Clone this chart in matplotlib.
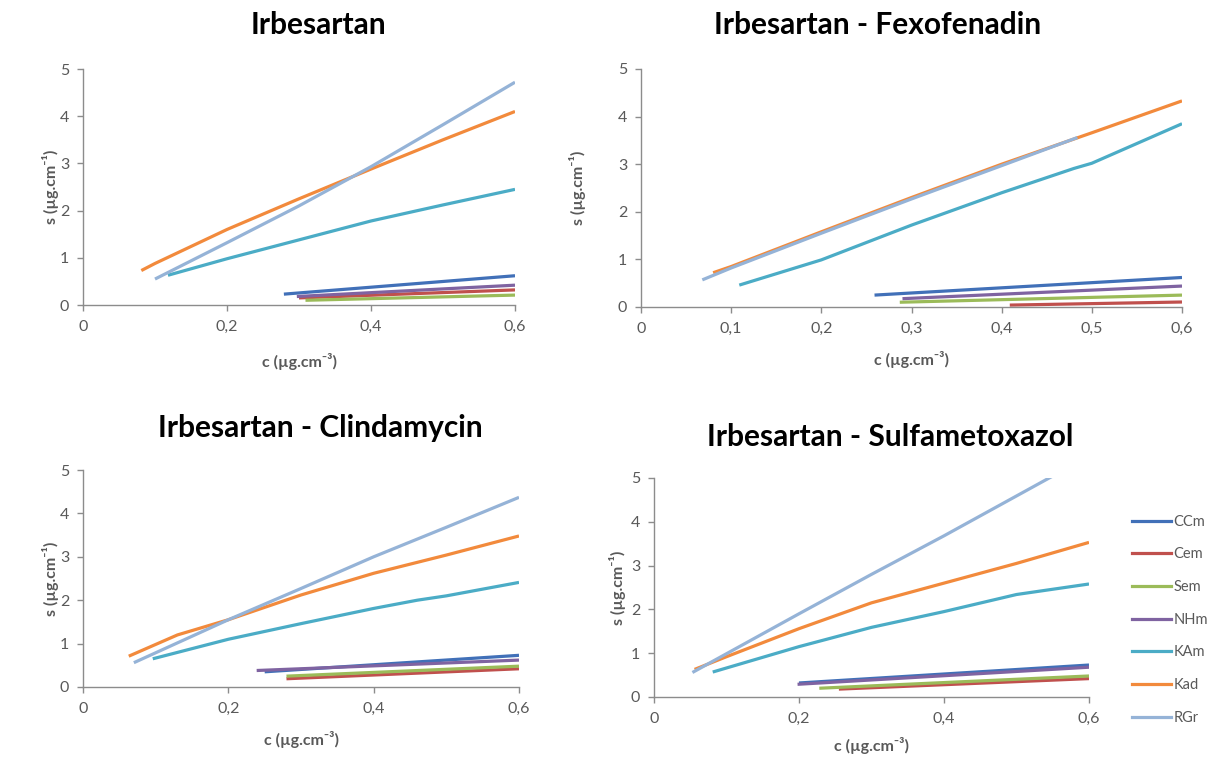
import matplotlib
matplotlib.use("Agg")
import matplotlib.pyplot as plt
from matplotlib.lines import Line2D

plt.rcParams['font.family'] = ['Lato', 'DejaVu Sans']

series_names = ["CCm", "Cem", "Sem", "NHm", "KAm", "Kad", "RGr"]
series_colors = ["#4170B8", "#C0504D", "#9BBB59", "#7F63A1", "#4BACC6", "#F28A3C", "#95B3D7"]

titles = ["Irbesartan", "Irbesartan - Fexofenadin",
          "Irbesartan - Clindamycin", "Irbesartan - Sulfametoxazol"]

# ---- Panel 1: Irbesartan ----
p1_CCm_x = [0.279, 0.6];  p1_CCm_y = [0.23, 0.62]
p1_Cem_x = [0.30, 0.6];   p1_Cem_y = [0.15, 0.32]
p1_Sem_x = [0.309, 0.6];  p1_Sem_y = [0.10, 0.21]
p1_NHm_x = [0.297, 0.6];  p1_NHm_y = [0.18, 0.42]
p1_KAm_x = [0.118, 0.2, 0.3, 0.4, 0.5, 0.6]
p1_KAm_y = [0.63, 0.98, 1.38, 1.78, 2.12, 2.45]
p1_Kad_x = [0.081, 0.1, 0.2, 0.3, 0.4, 0.5, 0.6]
p1_Kad_y = [0.73, 0.88, 1.60, 2.25, 2.88, 3.50, 4.10]
p1_RGr_x = [0.10, 0.2, 0.3, 0.4, 0.5, 0.6]
p1_RGr_y = [0.55, 1.32, 2.10, 2.93, 3.82, 4.72]

# ---- Panel 2: Irbesartan - Fexofenadin ----
p2_CCm_x = [0.259, 0.6];  p2_CCm_y = [0.25, 0.62]
p2_Cem_x = [0.409, 0.6];  p2_Cem_y = [0.04, 0.105]
p2_Sem_x = [0.287, 0.6];  p2_Sem_y = [0.10, 0.25]
p2_NHm_x = [0.29, 0.6];   p2_NHm_y = [0.175, 0.44]
p2_KAm_x = [0.109, 0.2, 0.3, 0.4, 0.48, 0.5, 0.6]
p2_KAm_y = [0.46, 0.99, 1.72, 2.40, 2.91, 3.02, 3.85]
p2_Kad_x = [0.08, 0.1, 0.2, 0.3, 0.4, 0.5, 0.6]
p2_Kad_y = [0.72, 0.85, 1.58, 2.30, 3.00, 3.66, 4.33]
p2_RGr_x = [0.068, 0.1, 0.2, 0.3, 0.4, 0.484]
p2_RGr_y = [0.57, 0.82, 1.55, 2.27, 2.97, 3.56]

# ---- Panel 3: Irbesartan - Clindamycin ----
p3_CCm_x = [0.25, 0.6];   p3_CCm_y = [0.35, 0.73]
p3_Cem_x = [0.28, 0.6];   p3_Cem_y = [0.19, 0.42]
p3_Sem_x = [0.28, 0.6];   p3_Sem_y = [0.25, 0.48]
p3_NHm_x = [0.239, 0.6];  p3_NHm_y = [0.38, 0.62]
p3_KAm_x = [0.096, 0.2, 0.3, 0.4, 0.46, 0.5, 0.6]
p3_KAm_y = [0.65, 1.10, 1.46, 1.81, 2.00, 2.10, 2.41]
p3_Kad_x = [0.063, 0.13, 0.2, 0.3, 0.4, 0.5, 0.6]
p3_Kad_y = [0.71, 1.20, 1.55, 2.12, 2.62, 3.04, 3.48]
p3_RGr_x = [0.07, 0.2, 0.3, 0.4, 0.5, 0.6]
p3_RGr_y = [0.56, 1.55, 2.27, 3.00, 3.68, 4.37]

# ---- Panel 4: Irbesartan - Sulfametoxazol ----
p4_CCm_x = [0.20, 0.6];   p4_CCm_y = [0.32, 0.73]
p4_Cem_x = [0.255, 0.6];  p4_Cem_y = [0.18, 0.42]
p4_Sem_x = [0.228, 0.6];  p4_Sem_y = [0.20, 0.48]
p4_NHm_x = [0.198, 0.6];  p4_NHm_y = [0.29, 0.68]
p4_KAm_x = [0.081, 0.2, 0.3, 0.4, 0.5, 0.6]
p4_KAm_y = [0.57, 1.15, 1.59, 1.95, 2.34, 2.58]
p4_Kad_x = [0.056, 0.1, 0.2, 0.3, 0.4, 0.5, 0.6]
p4_Kad_y = [0.63, 0.92, 1.56, 2.15, 2.60, 3.05, 3.53]
p4_RGr_x = [0.053, 0.2, 0.3, 0.4, 0.5, 0.6]
p4_RGr_y = [0.56, 1.90, 2.80, 3.68, 4.59, 5.50]

panels = [
    [(p1_CCm_x, p1_CCm_y), (p1_Cem_x, p1_Cem_y), (p1_Sem_x, p1_Sem_y), (p1_NHm_x, p1_NHm_y),
     (p1_KAm_x, p1_KAm_y), (p1_Kad_x, p1_Kad_y), (p1_RGr_x, p1_RGr_y)],
    [(p2_CCm_x, p2_CCm_y), (p2_Cem_x, p2_Cem_y), (p2_Sem_x, p2_Sem_y), (p2_NHm_x, p2_NHm_y),
     (p2_KAm_x, p2_KAm_y), (p2_Kad_x, p2_Kad_y), (p2_RGr_x, p2_RGr_y)],
    [(p3_CCm_x, p3_CCm_y), (p3_Cem_x, p3_Cem_y), (p3_Sem_x, p3_Sem_y), (p3_NHm_x, p3_NHm_y),
     (p3_KAm_x, p3_KAm_y), (p3_Kad_x, p3_Kad_y), (p3_RGr_x, p3_RGr_y)],
    [(p4_CCm_x, p4_CCm_y), (p4_Cem_x, p4_Cem_y), (p4_Sem_x, p4_Sem_y), (p4_NHm_x, p4_NHm_y),
     (p4_KAm_x, p4_KAm_y), (p4_Kad_x, p4_Kad_y), (p4_RGr_x, p4_RGr_y)],
]

xticks_sets = [
    [0, 0.2, 0.4, 0.6],
    [0, 0.1, 0.2, 0.3, 0.4, 0.5, 0.6],
    [0, 0.2, 0.4, 0.6],
    [0, 0.2, 0.4, 0.6],
]
yticks = [0, 1, 2, 3, 4, 5]

W, H = 1208, 758
# pixel boxes: left, right, top(y=5), bottom(y=0)
boxes = [(83, 515, 69, 305), (641, 1182, 69, 307), (83, 519, 470, 687), (654, 1089, 478, 697)]
title_pos = [(318, 25), (878, 25), (320, 428), (890, 437)]
xlabel_y = [362, 360, 740, 745]
ylabel_x = [50, 578, 50, 618]

fig = plt.figure(figsize=(W / 100, H / 100), dpi=100)

axis_gray = "#8C8C8C"
text_gray = "#595959"

for i, data in enumerate(panels):
    l, r, t, b = boxes[i]
    ax = fig.add_axes([l / W, 1 - b / H, (r - l) / W, (b - t) / H])
    for (xs, ys), name, col in zip(data, series_names, series_colors):
        ax.plot(xs, ys, color=col, lw=2.3, solid_capstyle='butt', label=name)
    ax.set_xlim(0, 0.6)
    ax.set_ylim(0, 5)
    ax.set_xticks(xticks_sets[i])
    ax.set_xticklabels(["0" if v == 0 else ("%g" % v).replace(".", ",") for v in xticks_sets[i]])
    ax.set_yticks(yticks)
    ax.set_yticklabels([str(v) for v in yticks])
    for s in ["top", "right"]:
        ax.spines[s].set_visible(False)
    for s in ["left", "bottom"]:
        ax.spines[s].set_color(axis_gray)
        ax.spines[s].set_linewidth(1.0)
    ax.tick_params(direction='out', length=4, width=1.0, color=axis_gray,
                   labelcolor=text_gray, labelsize=11.5)
    ax.tick_params(axis='x', pad=7)
    ax.tick_params(axis='y', pad=6)
    ax.set_facecolor('none')
    fig.text(title_pos[i][0] / W, 1 - title_pos[i][1] / H, titles[i], ha='center', va='center',
             fontsize=21.5, fontweight='bold', color='black')
    fig.text(((l + r) / 2) / W, 1 - xlabel_y[i] / H, "c (µg.cm⁻³)", ha='center', va='center',
             fontsize=11.5, fontweight='bold', color=text_gray)
    fig.text(ylabel_x[i] / W, 1 - ((t + b) / 2) / H, "s (µg.cm⁻¹)", ha='center', va='center',
             rotation=90, fontsize=11.5, fontweight='bold', color=text_gray)

handles = [Line2D([0], [0], color=c, lw=2.3) for c in series_colors]
fig.legend(handles, series_names, loc='upper left', bbox_to_anchor=(1126 / W, 1 - 509 / H),
           frameon=False, fontsize=10.5, labelcolor=text_gray, handlelength=2.7,
           handletextpad=0.15, labelspacing=1.28, borderaxespad=0)

fig.savefig("out.png", dpi=100, facecolor='white')
